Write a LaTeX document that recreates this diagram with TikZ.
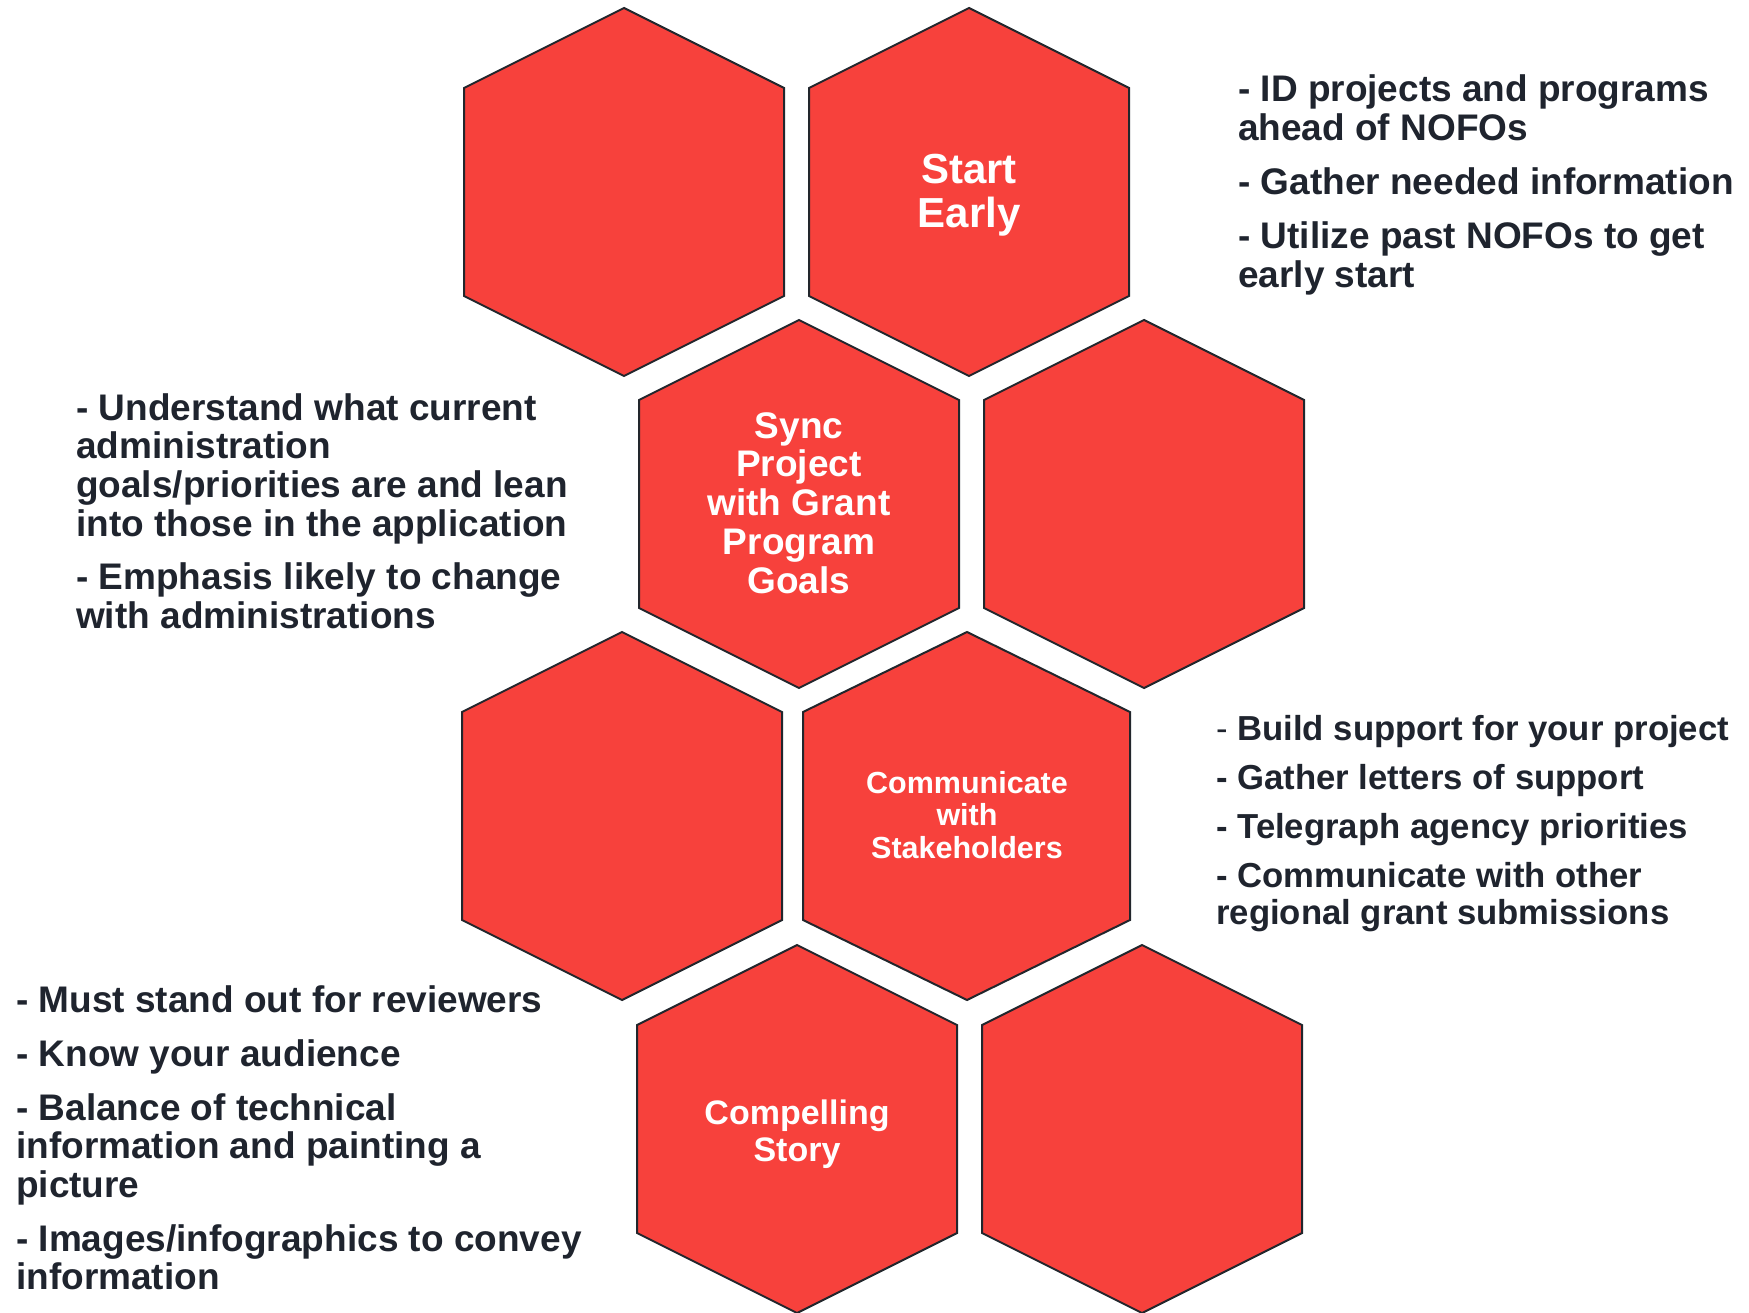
\documentclass[tikz,border=0pt]{standalone}
\usepackage{fontspec}
\setmainfont{Liberation Sans}
\usepackage{tikz}

\begin{document}
\begin{tikzpicture}[x=1pt,y=1pt,yscale=-1,
  hexcell/.style={draw={rgb,255:red,34;green,38;blue,44}, line width=2, line join=miter, fill={rgb,255:red,247;green,65;blue,60}},
  hexlabel/.style 2 args={text=white, align=center, inner sep=0, font=\bfseries\fontsize{#1}{#2}\selectfont},
  notetext/.style 2 args={text={rgb,255:red,31;green,36;blue,46}, align=left, inner sep=0, anchor=north west, font=\bfseries\fontsize{#1}{#2}\selectfont}]
%set diagram size: 1749 x 1313
\useasboundingbox (0,0) rectangle (1749,1313);

%Shape: Hexagon [row 1, left]
\draw [hexcell] (624,8) -- (784,88) -- (784,296) -- (624,376) -- (464,296) -- (464,88) -- cycle ;
%Shape: Hexagon [row 1, right]
\draw [hexcell] (969,8) -- (1129,88) -- (1129,296) -- (969,376) -- (809,296) -- (809,88) -- cycle ;
%Shape: Hexagon [row 2, left]
\draw [hexcell] (799,320) -- (959,400) -- (959,608) -- (799,688) -- (639,608) -- (639,400) -- cycle ;
%Shape: Hexagon [row 2, right]
\draw [hexcell] (1144,320) -- (1304,400) -- (1304,608) -- (1144,688) -- (984,608) -- (984,400) -- cycle ;
%Shape: Hexagon [row 3, left]
\draw [hexcell] (622,632) -- (782,712) -- (782,920) -- (622,1000) -- (462,920) -- (462,712) -- cycle ;
%Shape: Hexagon [row 3, right]
\draw [hexcell] (967,632) -- (1130,712) -- (1130,920) -- (967,1000) -- (803,920) -- (803,712) -- cycle ;
%Shape: Hexagon [row 4, left]
\draw [hexcell] (797,945) -- (957,1025) -- (957,1233) -- (797,1313) -- (637,1233) -- (637,1025) -- cycle ;
%Shape: Hexagon [row 4, right]
\draw [hexcell] (1142,945) -- (1302,1025) -- (1302,1233) -- (1142,1313) -- (982,1233) -- (982,1025) -- cycle ;


% Text Node
\node [hexlabel={42}{43.5}] (startearly) at (969,195) {Start\\Early};
% Text Node
\node [hexlabel={37}{38.8}] (syncgoals) at (799,503) {Sync\\Project\\with Grant\\Program\\Goals};
% Text Node
\node [hexlabel={30.5}{32.3}] (stakeholders) at (967,815) {Communicate\\with\\Stakeholders};
% Text Node
\node [hexlabel={34}{36.8}] (story) at (797,1134) {Compelling\\Story};

% Text Node
\node [notetext={37}{39.2}] (earlynotes) at (1238,74.5) {- ID projects and programs\\ahead of NOFOs\\[14.5pt]- Gather needed information\\[14.5pt]- Utilize past NOFOs to get\\early start};
% Text Node
\node [notetext={37}{38.7}] (syncnotes) at (76,393) {- Understand what current\\administration\\goals/priorities are and lean\\into those in the application\\[15pt]- Emphasis likely to change\\with administrations};
% Text Node
\node [notetext={34.7}{37}] (stakenotes) at (1216,715) {{\mdseries -} Build support for your project\\[12pt]- Gather letters of support\\[12pt]- Telegraph agency priorities\\[12pt]- Communicate with other\\regional grant submissions};
% Text Node
\node [notetext={37}{38.5}] (storynotes) at (16,985) {- Must stand out for reviewers\\[15.5pt]- Know your audience\\[15.5pt]- Balance of technical\\information and painting a\\picture\\[15.5pt]- Images/infographics to convey\\information};

\end{tikzpicture}
\end{document}
